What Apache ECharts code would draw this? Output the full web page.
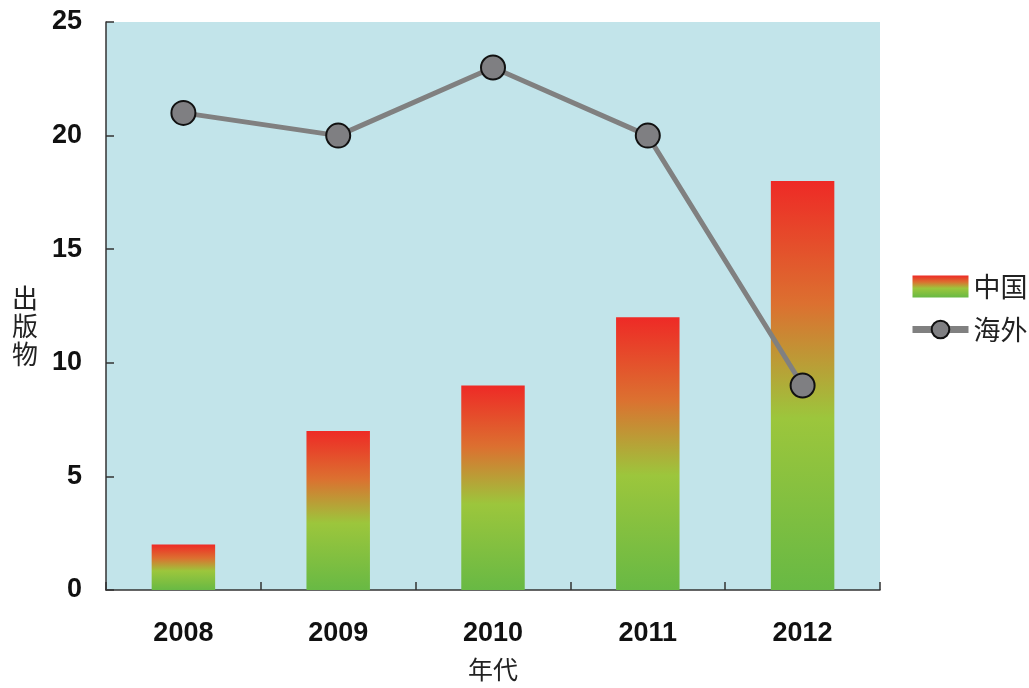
<!DOCTYPE html>
<html><head><meta charset="utf-8">
<script src="https://cdn.jsdelivr.net/npm/echarts@6/dist/echarts.min.js"></script>
<style>html,body{margin:0;padding:0;background:#fff}#c{width:1029px;height:688px}</style>
</head><body><div id="c"></div>
<script>
const categories = ['2008','2009','2010','2011','2012'];
const chinaValues = [2, 7, 9, 12, 18];
const overseasValues = [21, 20, 23, 20, 9];
const yTicks = [0, 5, 10, 15, 20, 25];
const yName = '出\n版\n物';

const chart = echarts.init(document.getElementById('c'));
const grad = new echarts.graphic.LinearGradient(0, 0, 0, 1, [
  {offset: 0, color: '#ee2a26'},
  {offset: 0.3, color: '#dc7030'},
  {offset: 0.58, color: '#9cc63c'},
  {offset: 1, color: '#68b944'}
]);
chart.setOption({
  backgroundColor: '#ffffff',
  animation: false,
  grid: {left: 106, right: 149, top: 22, bottom: 98, outerBoundsMode: 'none', containLabel: false,
    show: true, backgroundColor: '#c2e4ea', borderWidth: 0},
  graphic: [{
    type: 'text', left: 12, top: 284,
    style: {text: yName, fontSize: 26, lineHeight: 28, fill: '#222', fontFamily: 'Noto Sans CJK SC'}
  }],
  legend: {
    orient: 'vertical', left: 904, top: 268, itemGap: 16, itemWidth: 56, itemHeight: 22,
    textStyle: {fontSize: 27, color: '#222', fontFamily: 'Noto Sans CJK SC'},
    data: [
      {name: '中国', icon: 'rect'},
      {name: '海外', lineStyle: {width: 7, color: '#808080'}}
    ]
  },
  xAxis: {
    type: 'category', data: categories,
    name: '年代', nameLocation: 'middle', nameGap: 67,
    nameTextStyle: {fontSize: 25, color: '#222', fontFamily: 'Noto Sans CJK SC'},
    axisLine: {lineStyle: {color: '#333', width: 1.5}},
    axisTick: {show: true, inside: true, length: 8, alignWithLabel: false, lineStyle: {color: '#333', width: 1.5}},
    axisLabel: {fontSize: 27, fontWeight: 'bold', color: '#111', fontFamily: 'Liberation Sans', margin: 30}
  },
  yAxis: {
    type: 'value', min: 0, max: 25, interval: 5,
    splitLine: {show: false},
    axisLine: {show: true, lineStyle: {color: '#333', width: 1.5}},
    axisTick: {show: true, inside: true, length: 8, lineStyle: {color: '#333', width: 1.5}},
    axisLabel: {fontSize: 27, fontWeight: 'bold', color: '#111', fontFamily: 'Liberation Sans', margin: 24,
      formatter: v => yTicks.includes(v) ? String(v) : ''}
  },
  series: [
    {name: '中国', type: 'bar', data: chinaValues, barWidth: '41%', itemStyle: {color: grad}},
    {name: '海外', type: 'line', data: overseasValues, symbol: 'circle', symbolSize: 24,
      lineStyle: {color: '#808080', width: 5},
      itemStyle: {color: '#7f7f82', borderColor: '#111', borderWidth: 2}}
  ]
});
</script></body></html>
